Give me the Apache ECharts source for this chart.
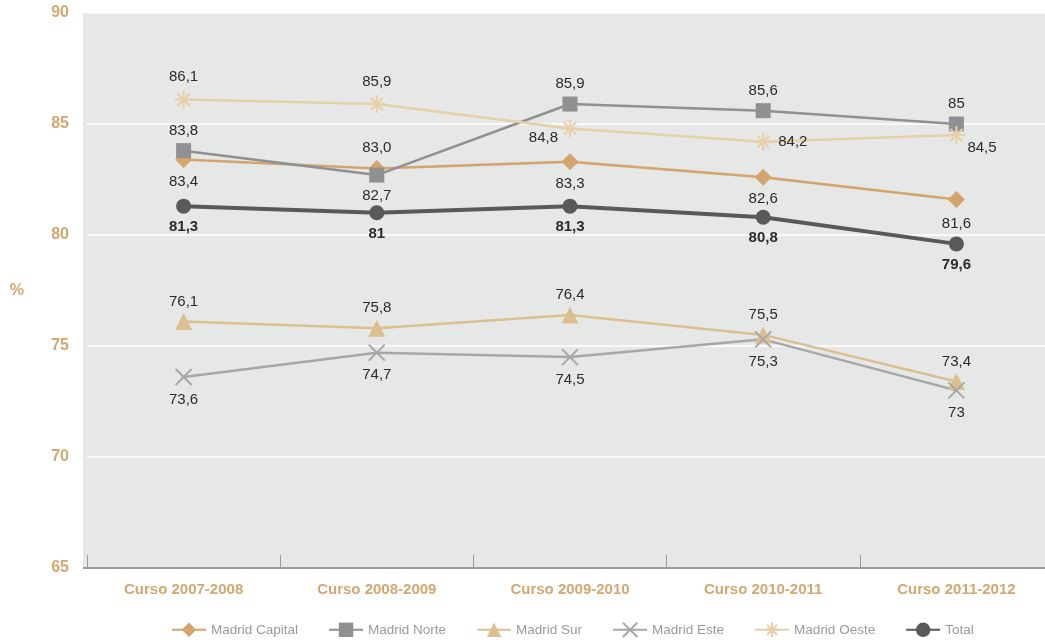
<!DOCTYPE html>
<html><head><meta charset="utf-8">
<script src="https://cdn.jsdelivr.net/npm/echarts@6/dist/echarts.min.js"></script>
<style>html,body{margin:0;padding:0;background:#fff}#c{width:1045px;height:644px}</style>
</head><body><div id="c"></div>
<script>
const categories = ['Curso 2007-2008','Curso 2008-2009','Curso 2009-2010','Curso 2010-2011','Curso 2011-2012'];
const capital = [83.4, 83.0, 83.3, 82.6, 81.6];
const norte   = [83.8, 82.7, 85.9, 85.6, 85];
const sur     = [76.1, 75.8, 76.4, 75.5, 73.4];
const este    = [73.6, 74.7, 74.5, 75.3, 73];
const oeste   = [86.1, 85.9, 84.8, 84.2, 84.5];
const total   = [81.3, 81, 81.3, 80.8, 79.6];
const capitalLabels = ['83,4','83,0','83,3','82,6','81,6'];
const norteLabels   = ['83,8','82,7','85,9','85,6','85'];
const surLabels     = ['76,1','75,8','76,4','75,5','73,4'];
const esteLabels    = ['73,6','74,7','74,5','75,3','73'];
const oesteLabels   = ['86,1','85,9','84,8','84,2','84,5'];
const totalLabels   = ['81,3','81','81,3','80,8','79,6'];
const yTicks = [65, 70, 75, 80, 85, 90];

const FONT = "'Liberation Sans Narrow', 'Liberation Sans', sans-serif";
const X_PATH = 'path://M0,0L10,10M10,0L0,10';
const AST_PATH = 'path://M5,0L5,10M0,5L10,5M1.6,1.6L8.4,8.4M8.4,1.6L1.6,8.4';

function mk(name, values, labels, color, symbol, size, positions, opts) {
  opts = opts || {};
  return {
    name, type: 'line', symbol, symbolSize: size, z: opts.z || 2,
    lineStyle: { color, width: opts.width || 2.5 },
    itemStyle: { color: opts.stroke ? 'rgba(0,0,0,0)' : color, borderColor: color, borderWidth: opts.stroke ? 2 : 0 },
    emphasis: { disabled: true },
    animation: false,
    data: values.map((v, i) => {
      const p = positions[i];
      return {
        value: v,
        label: {
          show: true, formatter: labels[i], position: p[0], distance: p[1] || 5,
          offset: p[2] || [0, 0],
          color: '#2b2b2b', fontSize: 15, fontFamily: FONT,
          fontWeight: opts.bold ? 'bold' : 'normal'
        }
      };
    })
  };
}

const chart = echarts.init(document.getElementById('c'), null, { renderer: 'canvas' });
chart.setOption({
  backgroundColor: '#fff',
  graphic: [
    { type: 'rect', left: 83, top: 13, shape: { width: 6, height: 555 }, style: { fill: '#e6e7e7' }, z: -10, silent: true },
    { type: 'line', shape: { x1: 83, y1: 568, x2: 88, y2: 568 }, style: { stroke: '#9b9b9b', lineWidth: 2 }, z: 10, silent: true }
  ],
  grid: { left: 87, top: 13, width: 966, height: 555, backgroundColor: '#e6e7e7', show: true, borderWidth: 0, outerBoundsMode: 'none' },
  legend: {
    bottom: 1, left: 166, itemGap: 30, itemWidth: 34, itemHeight: 18,
    textStyle: { color: '#9a9a9a', fontSize: 13.5, fontFamily: FONT },
    data: ['Madrid Capital','Madrid Norte','Madrid Sur','Madrid Este','Madrid Oeste','Total']
  },
  xAxis: {
    type: 'category', data: categories, boundaryGap: true,
    axisLine: { show: true, lineStyle: { color: '#9b9b9b', width: 2 } },
    axisTick: { show: true, inside: true, length: 13, lineStyle: { color: '#9b9b9b', width: 1 } },
    axisLabel: { color: '#d2a771', fontWeight: 'bold', fontSize: 15, fontFamily: FONT, margin: 14 },
    splitLine: { show: false }
  },
  yAxis: {
    type: 'value', min: yTicks[0], max: yTicks[yTicks.length - 1], interval: 5,
    name: '%', nameLocation: 'middle', nameRotate: 0, nameGap: 63,
    nameTextStyle: { color: '#d2a771', fontWeight: 'bold', fontSize: 16, fontFamily: FONT },
    axisLine: { show: false }, axisTick: { show: false },
    axisLabel: { color: '#d2a771', fontWeight: 'bold', fontSize: 16, fontFamily: FONT, margin: 18 },
    splitLine: { show: true, lineStyle: { color: '#ffffff', width: 1.5 } }
  },
  series: [
    mk('Madrid Capital', capital, capitalLabels, '#d3a46b', 'diamond', 17,
      [['bottom',6],['top',5],['bottom',6],['bottom',6],['bottom',8]]),
    mk('Madrid Norte', norte, norteLabels, '#8f9092', 'rect', 15,
      [['top',5],['bottom',6],['top',5],['top',5],['top',5]]),
    mk('Madrid Sur', sur, surLabels, '#dcbf8e', 'triangle', 17,
      [['top',4],['top',4],['top',4],['top',4],['top',4]]),
    mk('Madrid Este', este, esteLabels, '#a6a7a9', X_PATH, 16,
      [['bottom',6],['bottom',6],['bottom',6],['bottom',6],['bottom',6]], { stroke: true }),
    mk('Madrid Oeste', oeste, oesteLabels, '#e7cfa7', AST_PATH, 18,
      [['top',5],['top',5],['left',2,[0,9]],['right',5],['right',0,[-4,13]]], { stroke: true }),
    mk('Total', total, totalLabels, '#58595b', 'circle', 15,
      [['bottom',6],['bottom',6],['bottom',6],['bottom',6],['bottom',6]], { bold: true, width: 4, z: 3 })
  ]
});
</script>
</body></html>
